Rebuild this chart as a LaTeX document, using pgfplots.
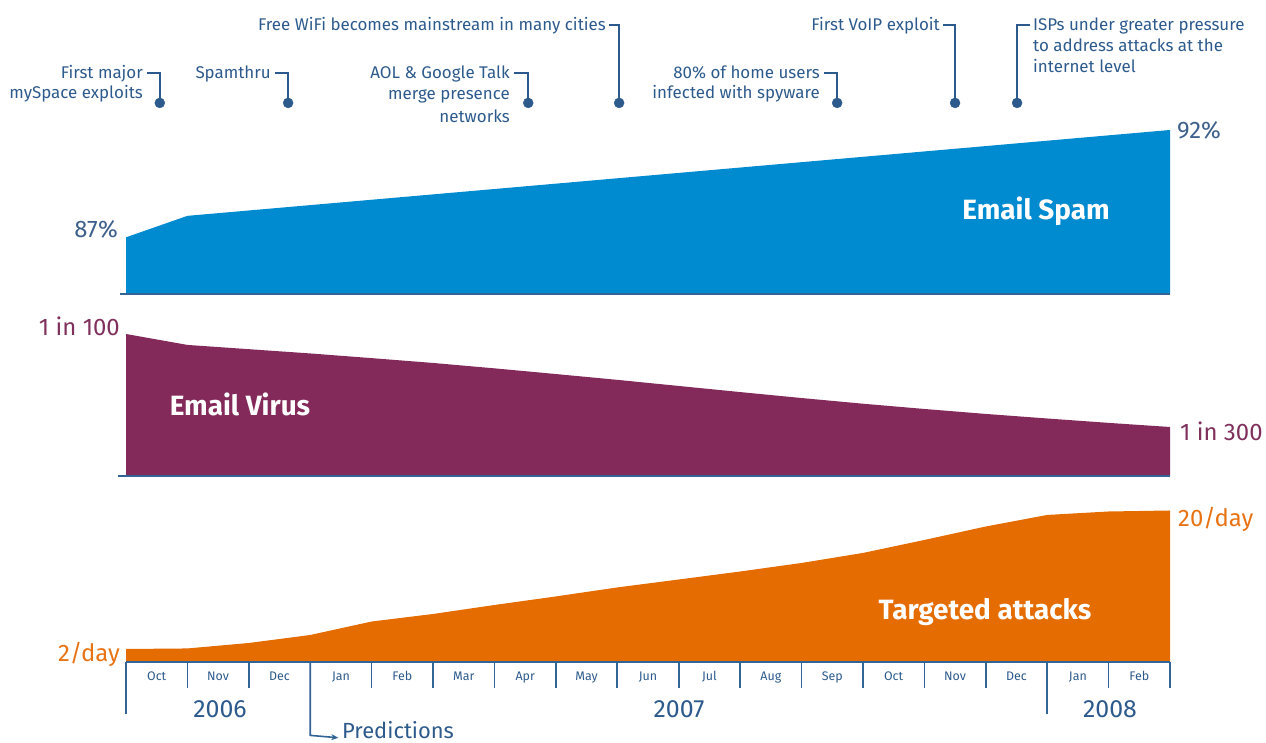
\documentclass[border=0pt]{standalone}
\usepackage{fontspec}
\setmainfont{Fira Sans}
\usepackage{pgfplots}
\pgfplotsset{compat=1.18}
\usetikzlibrary{arrows.meta}
\definecolor{spamc}{RGB}{0,138,208}
\definecolor{virusc}{RGB}{131,42,90}
\definecolor{targc}{RGB}{228,108,0}
\definecolor{evtc}{RGB}{45,90,140}
\definecolor{axisc}{RGB}{50,100,150}
\definecolor{spamlbl}{RGB}{62,96,140}
\definecolor{viruslbl}{RGB}{128,48,92}
\definecolor{targlbl}{RGB}{232,115,20}
\begin{document}
\begin{tikzpicture}[x=1bp,y=1bp]
\useasboundingbox (0,0) rectangle (1266,743);

% ---------- Email spam (percent) ----------
\begin{axis}[scale only axis, width=1044bp, height=164bp, at={(126bp,449bp)}, anchor=south west,
  xmin=0, xmax=17, ymin=84.36, ymax=92, hide axis, clip=false]
\addplot[fill=spamc, draw=none] coordinates {(0,84.36) (0,87) (1,88) (2,88.25) (3,88.5) (4,88.75) (5,89) (6,89.25) (7,89.5) (8,89.75) (9,90) (10,90.25) (11,90.5) (12,90.75) (13,91) (14,91.25) (15,91.5) (16,91.75) (17,92) (17,84.36)};
\draw[axisc, line width=2bp] (axis cs:-0.1,84.36) -- (axis cs:17,84.36);
% timeline events
\addplot[only marks, mark=*, mark size=5bp, color=evtc] coordinates {(0.55,93.26) (2.64,93.26) (6.55,93.26) (8.03,93.26) (11.58,93.26) (13.5,93.26) (14.51,93.26)};
\end{axis}

% ---------- Email virus (percent of emails) ----------
\begin{axis}[scale only axis, width=1044bp, height=142bp, at={(126bp,267bp)}, anchor=south west,
  xmin=0, xmax=17, ymin=0, ymax=1, hide axis, clip=false]
\addplot[fill=virusc, draw=none] coordinates {(0,0) (0,1.00) (1,0.923) (2,0.893) (3,0.863) (4,0.830) (5,0.796) (6,0.758) (7,0.718) (8,0.677) (9,0.634) (10,0.591) (11,0.549) (12,0.509) (13,0.472) (14,0.437) (15,0.405) (16,0.374) (17,0.345) (17,0)};
\draw[axisc, line width=2bp] (axis cs:-0.13,0) -- (axis cs:17,0);
\end{axis}

% ---------- Targeted attacks (per day) ----------
\begin{axis}[scale only axis, width=1044bp, height=151.5bp, at={(126bp,81bp)}, anchor=south west,
  xmin=0, xmax=17, ymin=0.31, ymax=20, hide axis, clip=false]
\addplot[fill=targc, draw=none] coordinates {(0,0.31) (0,2.0) (1,2.07) (2,2.78) (3,3.82) (4,5.57) (5,6.55) (6,7.72) (7,8.83) (8,10.0) (9,11.03) (10,12.07) (11,13.18) (12,14.48) (13,16.17) (14,17.92) (15,19.42) (16,19.87) (17,20.0) (17,0.31)};
\draw[axisc, line width=2bp] (axis cs:0,0.31) -- (axis cs:17,0.31);
\pgfplotsinvokeforeach{1,2,4,5,6,7,8,9,10,11,12,13,14,16,17}{
  \draw[axisc, line width=1.6bp] (axis cs:#1,0.31) -- ++(0,-24bp);
}
\pgfplotsinvokeforeach{0,15}{
  \draw[axisc, line width=1.6bp] (axis cs:#1,0.31) -- ++(0,-50bp);
}
\draw[axisc, line width=1.6bp, -{Stealth[length=7bp,width=6bp]}] (axis cs:3,0.31) -- ++(0,-71bp) -- ++(28bp,0);
\end{axis}

\begin{scope}[shift={(0,743)}, y=-1bp,
  evt/.style={font=\fontsize{17}{20}\selectfont, text=evtc, inner sep=0pt},
  co/.style={draw=evtc, line width=2bp}]
% callouts
\draw[co] (160,103) -- (160,73) -- (147,73);
\node[evt, anchor=base east] at (143,79) {First major};
\node[evt, anchor=base east] at (143,99) {mySpace exploits};
\draw[co] (288,103) -- (288,73) -- (275,73);
\node[evt, anchor=base east] at (271,79) {Spamthru};
\draw[co] (528,103) -- (528,73) -- (514,73);
\node[evt, anchor=base east] at (510,79) {AOL \& Google Talk};
\node[evt, anchor=base east] at (510,100) {merge presence};
\node[evt, anchor=base east] at (510,123) {networks};
\draw[co] (619,103) -- (619,25) -- (609,25);
\node[evt, anchor=base east] at (606,31) {Free WiFi becomes mainstream in many cities};
\draw[co] (837,103) -- (837,73) -- (824,73);
\node[evt, anchor=base east] at (820,79) {80\% of home users};
\node[evt, anchor=base east] at (820,99) {infected with spyware};
\draw[co] (955,103) -- (955,25) -- (943,25);
\node[evt, anchor=base east] at (940,31) {First VoIP exploit};
\draw[co] (1017,103) -- (1017,25) -- (1030,25);
\node[evt, anchor=base west] at (1033,31) {ISPs under greater pressure};
\node[evt, anchor=base west] at (1033,52) {to address attacks at the};
\node[evt, anchor=base west] at (1033,73) {internet level};

% value labels
\begin{scope}[every node/.style={font=\fontsize{24}{28}\selectfont, inner sep=0pt}]
\node[text=spamlbl, anchor=base east] at (118,237.4) {87\%};
\node[text=spamlbl, anchor=base west] at (1177,138.4) {92\%};
\node[text=viruslbl, anchor=base east] at (120,335.4) {1 in 100};
\node[text=viruslbl, anchor=base west] at (1180,440.4) {1 in 300};
\node[text=targlbl, anchor=base east] at (120,661.4) {2/day};
\node[text=targlbl, anchor=base west] at (1178,526.4) {20/day};
\end{scope}
\begin{scope}[every node/.style={font=\fontsize{25}{28}\selectfont, inner sep=0pt, text=evtc, anchor=base}]
\node at (220,717.8) {2006};
\node at (679,717.8) {2007};
\node at (1110,717.8) {2008};
\end{scope}
\node[font=\fontsize{22}{25}\selectfont, inner sep=0pt, text=evtc, anchor=base west] at (342,738.5) {Predictions};

% series names
\begin{scope}[every node/.style={font=\bfseries\fontsize{28}{32}\selectfont, text=white, inner sep=0pt, anchor=base}]
\node at (1036,219.8) {Email Spam};
\node at (240,415.8) {Email Virus};
\node at (985,619.8) {Targeted attacks};
\end{scope}

% months
\foreach \m [count=\i from 0] in {Oct,Nov,Dec,Jan,Feb,Mar,Apr,May,Jun,Jul,Aug,Sep,Oct,Nov,Dec,Jan,Feb}{
  \node[font=\fontsize{12.5}{14}\selectfont, text=evtc, inner sep=0pt, anchor=base] at ({126+(\i+0.5)*61.4118},680.4) {\m};
}
\end{scope}
\end{tikzpicture}
\end{document}
